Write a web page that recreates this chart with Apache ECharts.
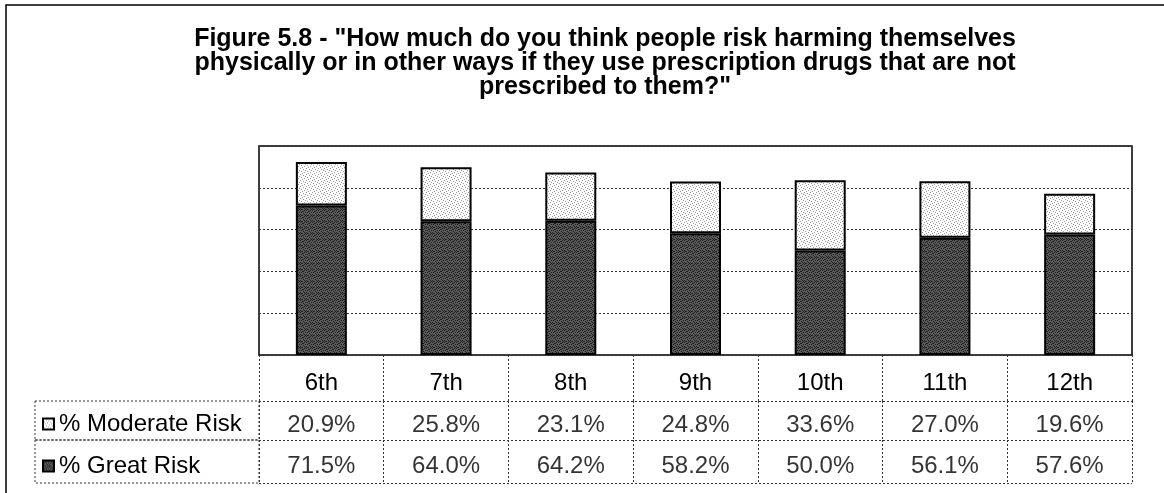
<!DOCTYPE html>
<html>
<head>
<meta charset="utf-8">
<script src="https://cdn.jsdelivr.net/npm/echarts@6/dist/echarts.min.js"></script>
<style>
html, body { margin: 0; padding: 0; background: #fff; }
#main { width: 1164px; height: 493px; }
</style>
</head>
<body>
<div id="main"></div>
<script>
const grades = ['6th', '7th', '8th', '9th', '10th', '11th', '12th'];
const moderateRisk = [20.9, 25.8, 23.1, 24.8, 33.6, 27.0, 19.6];
const greatRisk = [71.5, 64.0, 64.2, 58.2, 50.0, 56.1, 57.6];
const seriesNames = ['% Moderate Risk', '% Great Risk'];
const titleText = 'Figure 5.8 - "How much do you think people risk harming themselves\nphysically or in other ways if they use prescription drugs that are not\nprescribed to them?"';

const FONT = '"Liberation Sans", Arial, sans-serif';

// small dither textures like the scanned bars
function makePattern(base, dot, spots) {
	const c = document.createElement('canvas');
	c.width = 6; c.height = 6;
	const ctx = c.getContext('2d');
	ctx.fillStyle = base;
	ctx.fillRect(0, 0, 6, 6);
	ctx.fillStyle = dot;
	spots.forEach(p => ctx.fillRect(p[0], p[1], 1, 1));
	return c;
}
const darkTex = makePattern('#5c5c5c', '#1a1a1a',
	[[0, 0], [2, 1], [4, 0], [1, 2], [3, 3], [5, 2], [0, 4], [2, 5], [4, 4], [1, 5], [5, 5], [3, 1]]);
const lightTex = makePattern('#ffffff', '#9a9a9a',
	[[0, 0], [3, 1], [1, 3], [4, 4], [5, 2], [2, 5]]);

const fmt = v => v.toFixed(1) + '%';

// table rows below the plot
const rowTops = [355, 401, 440];
const rowHeights = [46, 39, 43];
const rowText = [null, moderateRisk.map(fmt), greatRisk.map(fmt)];

const gridLeft = 259, gridWidth = 873;
const dotted = { color: '#333', width: 1, type: [2, 2] };

const grids = [{ left: gridLeft, top: 146, width: gridWidth, height: 209, show: true, borderColor: '#000', borderWidth: 1.5 }];
const xAxes = [{
	type: 'category', gridIndex: 0, data: grades,
	axisLine: { show: false }, axisTick: { show: false },
	axisLabel: { color: '#000', fontFamily: FONT, fontSize: 24, margin: 28, verticalAlign: 'middle' }
}];
const yAxes = [{
	type: 'value', gridIndex: 0, min: 0, max: 100, interval: 20,
	axisLabel: { show: false }, axisLine: { show: false }, axisTick: { show: false },
	splitLine: { lineStyle: dotted }
}];
const series = [
	{
		name: seriesNames[1], type: 'bar', stack: 'risk', data: greatRisk, barWidth: 51,
		itemStyle: { color: { image: darkTex, repeat: 'repeat' }, borderColor: '#000', borderWidth: 2 }
	},
	{
		name: seriesNames[0], type: 'bar', stack: 'risk', data: moderateRisk, barWidth: 51,
		itemStyle: { color: { image: lightTex, repeat: 'repeat' }, borderColor: '#000', borderWidth: 2 }
	}
];

rowTops.forEach((top, r) => {
	const gi = r + 1;
	grids.push({ left: gridLeft, top: top, width: gridWidth, height: rowHeights[r] });
	xAxes.push({
		type: 'category', gridIndex: gi, data: grades,
		axisLine: { show: false }, axisTick: { show: false }, axisLabel: { show: false },
		splitLine: { show: true, lineStyle: dotted }
	});
	yAxes.push({
		type: 'value', gridIndex: gi, min: 0, max: 1, interval: 1,
		axisLabel: { show: false }, axisLine: { show: false }, axisTick: { show: false },
		splitLine: { lineStyle: dotted }
	});
	if (rowText[r]) {
		series.push({
			type: 'scatter', xAxisIndex: gi, yAxisIndex: gi, silent: true,
			symbolSize: 1, itemStyle: { color: 'rgba(0,0,0,0)' },
			data: rowText[r].map((t, i) => [i, 0.5]),
			label: {
				show: true, position: 'inside', offset: [0, 5], color: '#000', fontFamily: FONT, fontSize: 24,
				formatter: p => rowText[r][p.dataIndex]
			}
		});
	}
});

const chart = echarts.init(document.getElementById('main'));
chart.setOption({
	animation: false,
	title: {
		text: titleText, left: 600, top: 22, textAlign: 'center',
		textStyle: { color: '#000', fontFamily: FONT, fontWeight: 'bold', fontSize: 25, lineHeight: 24 }
	},
	legend: {
		orient: 'vertical', left: 42, top: 409, itemGap: 12, padding: 0,
		data: [seriesNames[0], seriesNames[1]],
		icon: 'rect', itemWidth: 11, itemHeight: 11,
		textStyle: { color: '#000', fontFamily: FONT, fontSize: 24, lineHeight: 30 },
		selectedMode: false
	},
	grid: grids,
	xAxis: xAxes,
	yAxis: yAxes,
	series: series,
	graphic: [
		{ type: 'rect', shape: { x: 6, y: 5, width: 1300, height: 600 }, style: { fill: 'none', stroke: '#000', lineWidth: 1.5 } },
		{ type: 'rect', shape: { x: 35, y: 401, width: 224, height: 39 }, style: { fill: 'none', stroke: '#333', lineWidth: 1, lineDash: [2, 2] } },
		{ type: 'rect', shape: { x: 35, y: 440, width: 224, height: 43 }, style: { fill: 'none', stroke: '#333', lineWidth: 1, lineDash: [2, 2] } }
	]
});
</script>
</body>
</html>
